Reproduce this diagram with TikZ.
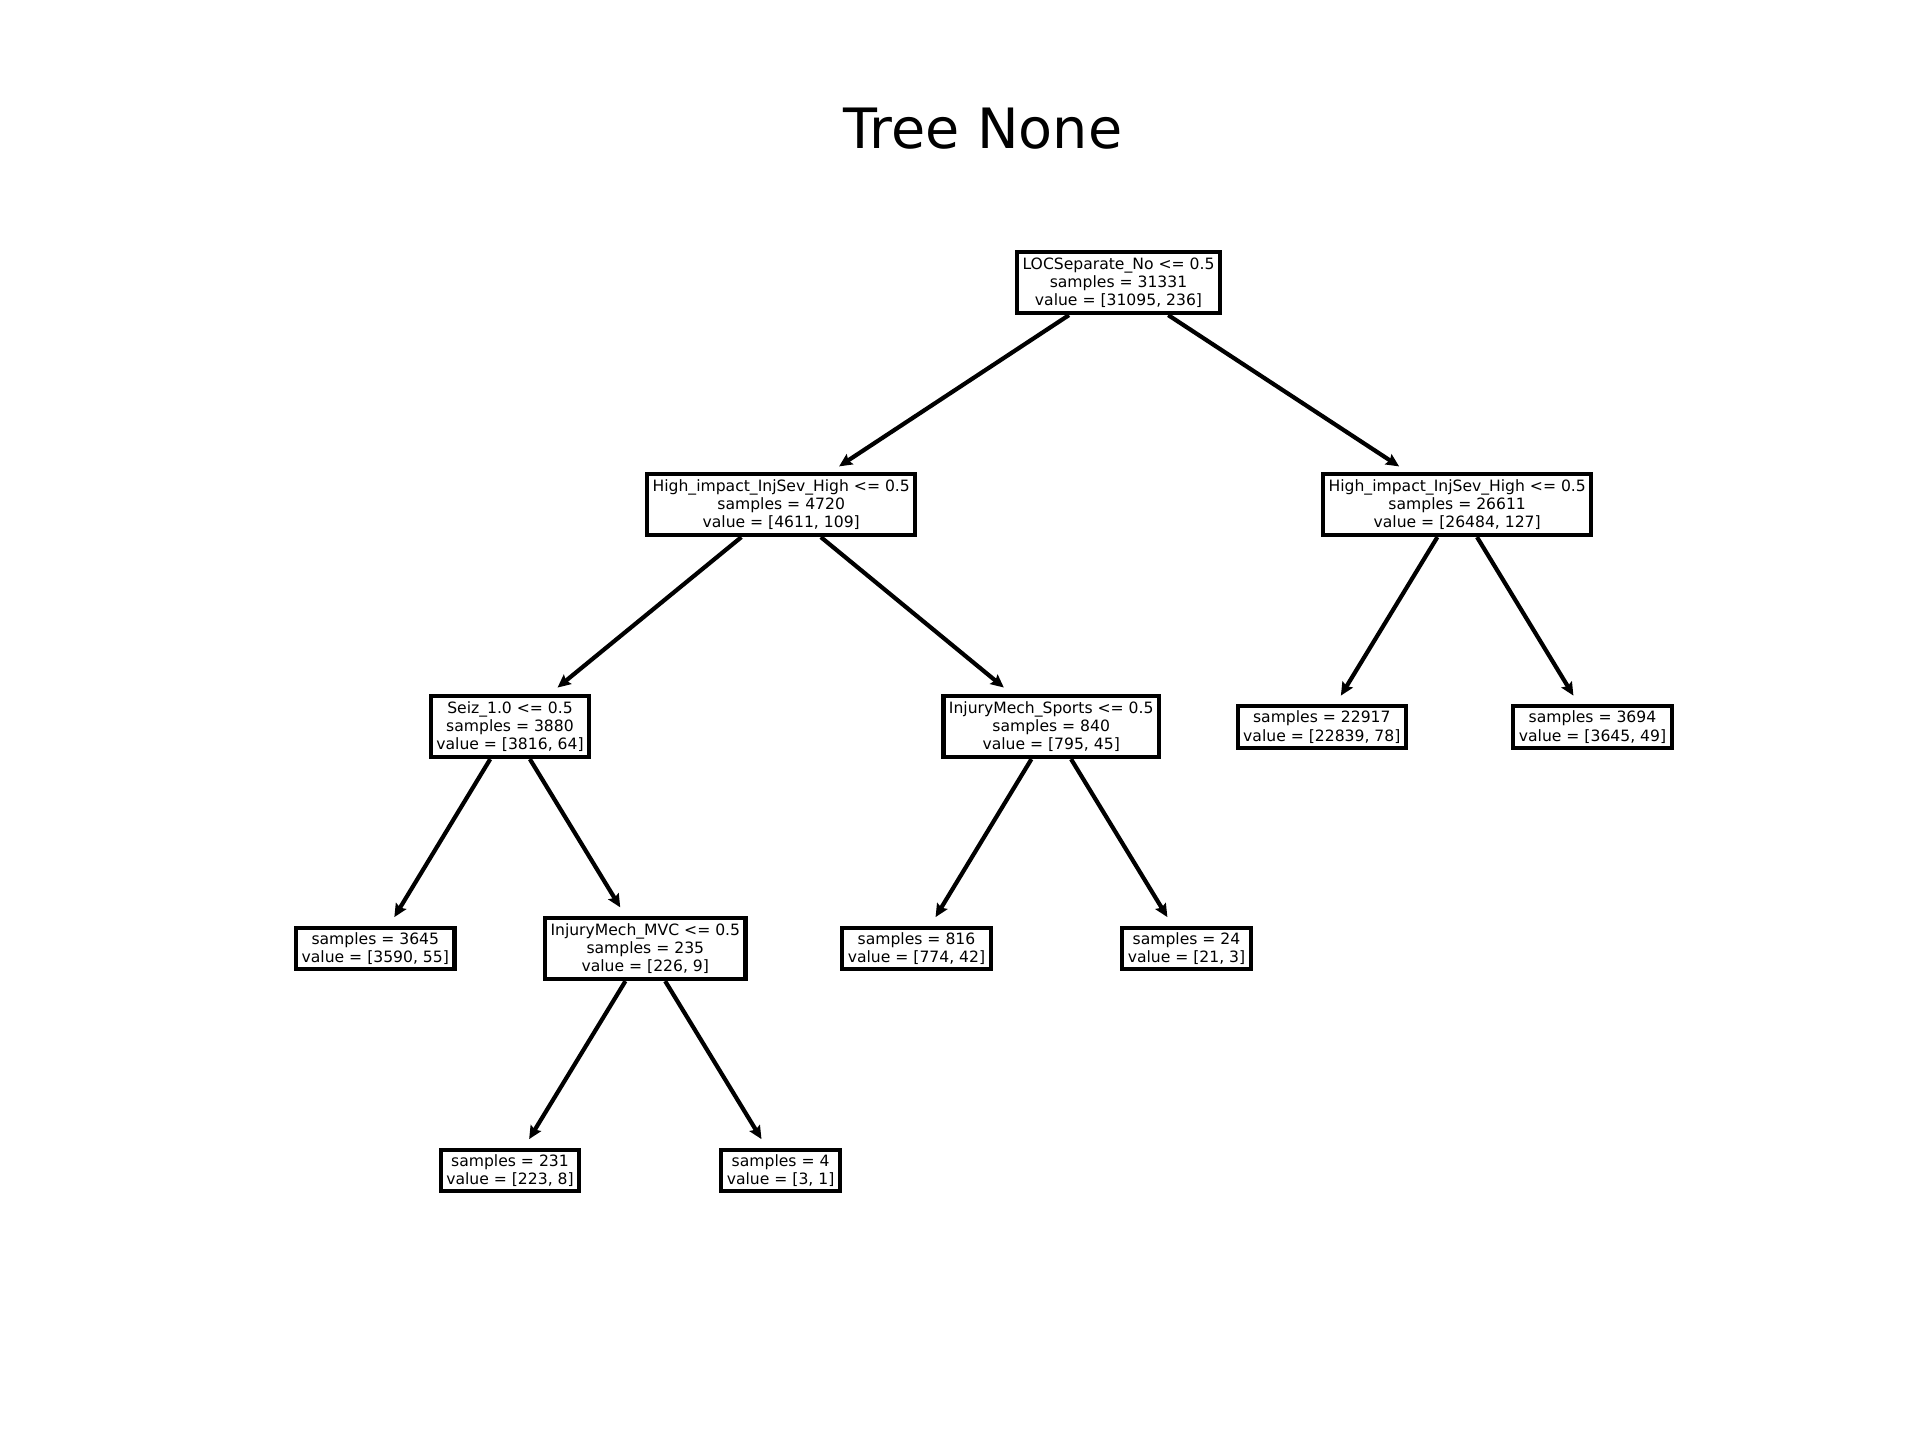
\documentclass[tikz,border=0pt]{standalone}
\usepackage{fontspec}
\setmainfont{DejaVu Sans}
\usetikzlibrary{arrows.meta}
\tikzset{
  split/.style={draw=black, line width=4.2pt, fill=white, align=center,
    inner xsep=5.5pt, inner ysep=3pt, minimum height=61pt,
    font=\fontsize{15.6}{18.2}\selectfont},
  leaf/.style={split, minimum height=41.5pt},
  edge/.style={line width=4.2pt, -{Stealth[length=13pt,width=12pt,inset=2pt]}, shorten >=10pt}
}
\begin{document}
\begin{tikzpicture}[x=1pt,y=-1pt]
\useasboundingbox (0,0) rectangle (1920,1440);
\node[anchor=base, font=\fontsize{55.6}{60}\selectfont] (title) at (983,148) {Tree None};
\node[split] (root) at (1118.5,282.5) {LOCSeparate\_No <= 0.5\\samples = 31331\\value = [31095, 236]};
\node[split] (l1) at (781.2,504.5) {High\_impact\_InjSev\_High <= 0.5\\samples = 4720\\value = [4611, 109]};
\node[split] (r1) at (1457.2,504.5) {High\_impact\_InjSev\_High <= 0.5\\samples = 26611\\value = [26484, 127]};
\node[split] (ll) at (510,726.5) {Seiz\_1.0 <= 0.5\\samples = 3880\\value = [3816, 64]};
\node[split] (lr) at (1051.2,726.5) {InjuryMech\_Sports <= 0.5\\samples = 840\\value = [795, 45]};
\node[leaf] (rl) at (1321.8,727) {samples = 22917\\value = [22839, 78]};
\node[leaf] (rr) at (1592.5,727) {samples = 3694\\value = [3645, 49]};
\node[leaf] (lll) at (375.3,948.5) {samples = 3645\\value = [3590, 55]};
\node[split] (llr) at (645.3,948.5) {InjuryMech\_MVC <= 0.5\\samples = 235\\value = [226, 9]};
\node[leaf] (lrl) at (916.5,948.5) {samples = 816\\value = [774, 42]};
\node[leaf] (lrr) at (1186.5,948.5) {samples = 24\\value = [21, 3]};
\node[leaf] (llrl) at (510,1170.5) {samples = 231\\value = [223, 8]};
\node[leaf] (llrr) at (780.6,1170.5) {samples = 4\\value = [3, 1]};
\draw[edge] (root) -- (l1);
\draw[edge] (root) -- (r1);
\draw[edge] (l1) -- (ll);
\draw[edge] (l1) -- (lr);
\draw[edge] (r1) -- (rl);
\draw[edge] (r1) -- (rr);
\draw[edge] (ll) -- (lll);
\draw[edge] (ll) -- (llr);
\draw[edge] (lr) -- (lrl);
\draw[edge] (lr) -- (lrr);
\draw[edge] (llr) -- (llrl);
\draw[edge] (llr) -- (llrr);
\end{tikzpicture}
\end{document}
